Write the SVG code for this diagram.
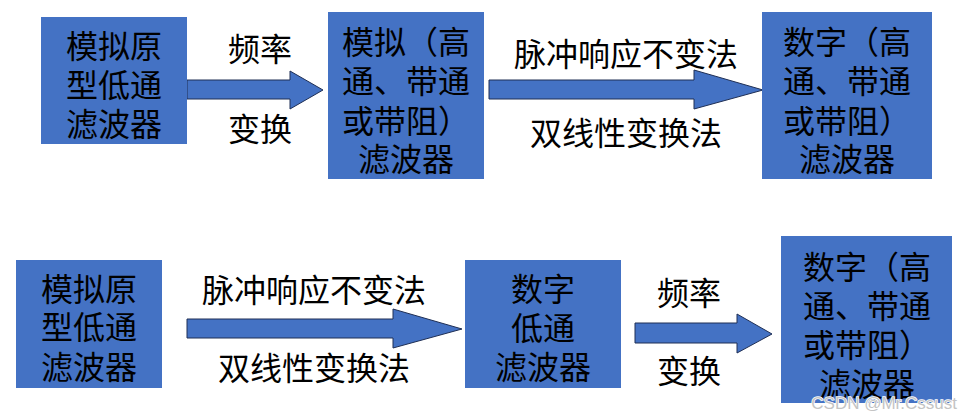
<svg xmlns="http://www.w3.org/2000/svg" width="961" height="420" viewBox="0 0 961 420">
<style>
.box{fill:#4472C4;}
.arr{fill:#4472C4;stroke:#1F2F55;stroke-width:1;}
text{font-family:"Noto Sans CJK SC","Noto Sans CJK JP",sans-serif;font-size:32px;fill:#000;text-anchor:middle;dominant-baseline:central;}
.wm{font-family:"Liberation Sans",Arial,sans-serif;font-size:17px;fill:#c4c4c4;stroke:#ffffff;stroke-width:1.5;paint-order:stroke;text-anchor:end;dominant-baseline:alphabetic;}
</style>
<rect width="961" height="420" fill="#ffffff"/>
<g id="connectors">
  <g id="arrow1">
    <polygon class="arr" points="187,80 290,80 290,71 323,90 290,109 290,99 187,99"/>
    <text x="260" y="47">频率</text>
    <text x="260" y="127">变换</text>
  </g>
  <g id="arrow2">
    <polygon class="arr" points="489,80 694,80 694,70 763,90 694,109 694,99 489,99"/>
    <text x="626" y="52">脉冲响应不变法</text>
    <text x="626" y="131">双线性变换法</text>
  </g>
  <g id="arrow3">
    <polygon class="arr" points="187,319 393,319 393,309 462,329 393,348 393,338 187,338"/>
    <text x="314" y="288">脉冲响应不变法</text>
    <text x="314" y="366">双线性变换法</text>
  </g>
  <g id="arrow4">
    <polygon class="arr" points="635,323 737,323 737,314 772,334 737,353 737,343 635,343"/>
    <text x="689" y="291">频率</text>
    <text x="689" y="369">变换</text>
  </g>
</g>
<g id="node-analog-lowpass-top">
  <rect class="box" x="41" y="17" width="146" height="127"/>
  <text x="114" y="44"><tspan x="114" y="44">模拟原</tspan><tspan x="114" y="83">型低通</tspan><tspan x="114" y="122">滤波器</tspan></text>
</g>
<g id="node-analog-hp-top">
  <rect class="box" x="328" y="12" width="156" height="167"/>
  <text x="406" y="40"><tspan x="406" y="40">模拟（高</tspan><tspan x="406" y="79">通、带通</tspan><tspan x="406" y="119">或带阻）</tspan><tspan x="406" y="157">滤波器</tspan></text>
</g>
<g id="node-digital-hp-top">
  <rect class="box" x="762" y="12" width="170" height="167"/>
  <text x="847" y="40"><tspan x="847" y="40">数字（高</tspan><tspan x="847" y="79">通、带通</tspan><tspan x="847" y="119">或带阻）</tspan><tspan x="847" y="157">滤波器</tspan></text>
</g>
<g id="node-analog-lowpass-bottom">
  <rect class="box" x="16" y="260" width="146" height="128"/>
  <text x="89" y="287"><tspan x="89" y="287">模拟原</tspan><tspan x="89" y="325">型低通</tspan><tspan x="89" y="365">滤波器</tspan></text>
</g>
<g id="node-digital-lowpass">
  <rect class="box" x="465" y="260" width="156" height="128"/>
  <text x="543" y="287"><tspan x="543" y="287">数字</tspan><tspan x="543" y="326">低通</tspan><tspan x="543" y="365">滤波器</tspan></text>
</g>
<g id="node-digital-hp-bottom">
  <rect class="box" x="781" y="236" width="171" height="167"/>
  <text x="867" y="265"><tspan x="867" y="265">数字（高</tspan><tspan x="867" y="304">通、带通</tspan><tspan x="867" y="343">或带阻）</tspan><tspan x="867" y="382">滤波器</tspan></text>
</g>
<text class="wm" x="957" y="409">CSDN @Mr.Cssust</text>
</svg>
